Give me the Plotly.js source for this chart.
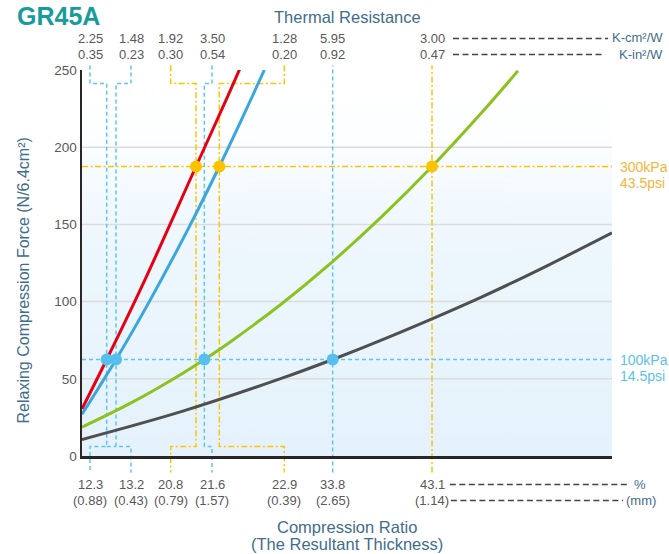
<!DOCTYPE html>
<html><head><meta charset="utf-8">
<script src="https://cdn.plot.ly/plotly-3.0.1.min.js"></script>
<style>html,body{margin:0;padding:0;background:#fff;}#chart{width:669px;height:554px;}</style>
</head><body><div id="chart"></div>
<script>
// Curves: position along the compression axis (chart units 0-100) vs force (N/6.4cm²)
const redX = [0, 4.66, 11.32, 21.51, 27.3, 29.81];
const redY = [30.5, 62.5, 110, 187.5, 231.5, 251];
const blueX = [0, 6.42, 12.83, 20.38, 25.91, 30.19, 34.4];
const blueY = [27, 62.5, 100.8, 149.4, 187.5, 218.5, 250];
const greenX = [0, 9.43, 18.87, 23.08, 28.3, 37.74, 47.17, 56.6, 66.04, 75.47, 82.26];
const greenY = [18.7, 34.7, 53.3, 62.5, 74.7, 98.8, 125.6, 155.2, 187.5, 222.6, 249.5];
const grayX = [0, 18.87, 37.74, 47.3, 56.6, 75.47, 87.74, 100];
const grayY = [10.7, 28.9, 50.4, 62.5, 75.2, 103.1, 123.2, 144.5];

// Pressure levels (100kPa, 300kPa)
const pressureLevels = [62.5, 187.5];
const pressureKPa = ['100kPa', '300kPa'];
const pressurePsi = ['14.5psi', '43.5psi'];

// Measured points and their labels
const pointX = [4.66, 6.42, 21.51, 23.08, 25.91, 47.3, 66.04];
const pointLevel = [0, 0, 1, 0, 1, 0, 1];
const labelX = [1.51, 9.25, 16.74, 24.53, 38.17, 47.3, 66.04];
const resCm = ['2.25', '1.48', '1.92', '3.50', '1.28', '5.95', '3.00'];
const resIn = ['0.35', '0.23', '0.30', '0.54', '0.20', '0.92', '0.47'];
const ratioPct = ['12.3', '13.2', '20.8', '21.6', '22.9', '33.8', '43.1'];
const thickMm = ['(0.88)', '(0.43)', '(0.79)', '(1.57)', '(0.39)', '(2.65)', '(1.14)'];

const yTicks = [0, 50, 100, 150, 200, 250];
const gridVals = [50, 100, 150, 200];

// styles
const FONT = 'Liberation Sans, Arial, sans-serif';
const levelColor = ['#5cc6f0', '#fcc600'];
const dotColor = ['#55bfee', '#fdc300'];
const levelDash = ['4px,3px', '6px,2.5px,2px,2.5px'];
const labelColor = ['#5bc2ec', '#f5b53a'];
const numColor = '#5a5858';
const titleColor = '#3f6d8c';

// paper-y levels for brackets
const yTop = 1.0117, yBrT = 0.965, yBrB = 0.0246, yBot = -0.0427;

const shapes = [];
gridVals.forEach(v => shapes.push({type: 'line', xref: 'paper', x0: 0, x1: 1, yref: 'y', y0: v, y1: v,
  line: {color: '#dcdcdc', width: 1.5}, layer: 'below'}));
pressureLevels.forEach((v, k) => shapes.push({type: 'line', xref: 'paper', x0: 0, x1: 1, yref: 'y', y0: v, y1: v,
  line: {color: levelColor[k], width: 1.5, dash: levelDash[k]}, layer: 'below'}));
pointX.forEach((px, i) => {
  const k = pointLevel[i], lx = labelX[i];
  const line = {color: levelColor[k], width: 1.5, dash: levelDash[k]};
  if (Math.abs(lx - px) < 1e-6) {
    shapes.push({type: 'line', xref: 'x', yref: 'paper', x0: px, x1: px, y0: yBot, y1: yTop, line, layer: 'below'});
  } else {
    const p = `M ${lx},${yTop} L ${lx},${yBrT} L ${px},${yBrT} L ${px},${yBrB} L ${lx},${yBrB} L ${lx},${yBot}`;
    shapes.push({type: 'path', xref: 'x', yref: 'paper', path: p, line, layer: 'below'});
  }
});
// bottom link between first two brackets
shapes.push({type: 'line', xref: 'x', yref: 'paper', x0: pointX[0], x1: pointX[1], y0: yBrB, y1: yBrB,
  line: {color: levelColor[0], width: 1.5, dash: levelDash[0]}, layer: 'below'});
// unit connector dashes
const conn = [[0.70, 0.9925, 1.0816], [0.70, 0.987, 1.0402], [0.694, 1.030, -0.0738], [0.696, 1.021, -0.1153]];
conn.forEach(c => shapes.push({type: 'line', xref: 'paper', yref: 'paper', x0: c[0], x1: c[1], y0: c[2], y1: c[2],
  line: {color: '#444', width: 1.3, dash: '6px,3.5px'}}));

const ann = [];
const A = (o) => ann.push(Object.assign({showarrow: false, xanchor: 'center', yanchor: 'middle'}, o));
labelX.forEach((lx, i) => {
  A({xref: 'x', yref: 'paper', x: lx, y: 1.0816, text: resCm[i], font: {family: FONT, size: 13, color: numColor}});
  A({xref: 'x', yref: 'paper', x: lx, y: 1.0402, text: resIn[i], font: {family: FONT, size: 13, color: numColor}});
  A({xref: 'x', yref: 'paper', x: lx, y: -0.0738, text: ratioPct[i], font: {family: FONT, size: 13, color: numColor}});
  A({xref: 'x', yref: 'paper', x: lx, y: -0.1153, text: thickMm[i], font: {family: FONT, size: 13, color: numColor}});
});
A({xref: 'paper', yref: 'paper', x: 1.1, xanchor: 'right', y: 1.0842, text: 'K-cm²/W', font: {family: FONT, size: 13, color: titleColor}});
A({xref: 'paper', yref: 'paper', x: 1.1, xanchor: 'right', y: 1.0402, text: 'K-in²/W', font: {family: FONT, size: 13, color: titleColor}});
A({xref: 'paper', yref: 'paper', x: 1.053, y: -0.0738, text: '%', font: {family: FONT, size: 13, color: titleColor}});
A({xref: 'paper', yref: 'paper', x: 1.055, y: -0.1153, text: '(mm)', font: {family: FONT, size: 13, color: titleColor}});
pressureLevels.forEach((v, k) => {
  A({xref: 'paper', yref: 'y', x: 1.0113, xanchor: 'left', y: v, yshift: 0, text: pressureKPa[k], font: {family: FONT, size: 14, color: labelColor[k]}});
  A({xref: 'paper', yref: 'y', x: 1.0113, xanchor: 'left', y: v, yshift: -16, text: pressurePsi[k], font: {family: FONT, size: 14, color: labelColor[k]}});
});
A({xref: 'paper', yref: 'paper', x: 0.5, y: 1.1386, text: 'Thermal Resistance', font: {family: FONT, size: 16.5, color: titleColor}});
A({xref: 'paper', yref: 'paper', x: 0.5, y: -0.1852, text: 'Compression Ratio', font: {family: FONT, size: 16.5, color: titleColor}});
A({xref: 'paper', yref: 'paper', x: 0.5, y: -0.2267, text: '(The Resultant Thickness)', font: {family: FONT, size: 16.5, color: titleColor}});
A({xref: 'paper', yref: 'paper', x: -0.1113, y: 0.4547, textangle: -90, text: 'Relaxing Compression Force (N/6.4cm²)', font: {family: FONT, size: 16, color: titleColor}});

const svg = "<svg xmlns='http://www.w3.org/2000/svg' width='10' height='100' preserveAspectRatio='none'><defs><linearGradient id='g' x1='0' y1='0' x2='0' y2='1'><stop offset='0' stop-color='#ffffff'/><stop offset='0.17' stop-color='#fdfeff'/><stop offset='0.3' stop-color='#f4fafe'/><stop offset='0.5' stop-color='#ecf6fd'/><stop offset='1' stop-color='#e5f2fb'/></linearGradient></defs><rect width='10' height='100' fill='url(#g)'/></svg>";

const curve = (x, y, c) => ({type: 'scatter', mode: 'lines', x, y, line: {color: c, width: 3, shape: 'spline', smoothing: 1}, hoverinfo: 'skip'});
const dotsFor = (k) => {
  const xs = [], ys = [];
  pointX.forEach((px, i) => { if (pointLevel[i] === k) { xs.push(px); ys.push(pressureLevels[k]); } });
  return {type: 'scatter', mode: 'markers', x: xs, y: ys, marker: {size: 12, color: dotColor[k]}, hoverinfo: 'skip'};
};

const data = [
  curve(grayX, grayY, '#4f4f4f'),
  curve(greenX, greenY, '#8cc220'),
  curve(blueX, blueY, '#3aa6dd'),
  curve(redX, redY, '#e60012'),
  dotsFor(0), dotsFor(1)
];

const layout = {
  width: 669, height: 554,
  margin: {l: 82, r: 57, t: 70, b: 98, pad: 0},
  paper_bgcolor: '#ffffff', plot_bgcolor: 'rgba(0,0,0,0)',
  showlegend: false,
  title: {text: '<b>GR45A</b>', x: 17 / 669, xanchor: 'left', xref: 'container', y: 1 - 16 / 554, yanchor: 'middle', yref: 'container',
    font: {family: FONT, size: 25, color: '#179b9b'}},
  xaxis: {range: [0, 100], showticklabels: false, showgrid: false, zeroline: false, ticks: '',
    showline: true, linecolor: '#2a2526', linewidth: 2.5, fixedrange: true},
  yaxis: {range: [0, 250], tickvals: yTicks, showgrid: false, zeroline: false, ticks: '',
    showline: true, linecolor: '#2a2526', linewidth: 2.5, fixedrange: true,
    tickfont: {family: FONT, size: 13.5, color: numColor}},
  shapes, annotations: ann,
  images: [{source: 'data:image/svg+xml;charset=utf-8,' + encodeURIComponent(svg), xref: 'paper', yref: 'paper',
    x: 0, y: 1, sizex: 1, sizey: 1, xanchor: 'left', yanchor: 'top', sizing: 'stretch', layer: 'below'}]
};

Plotly.newPlot('chart', data, layout, {displayModeBar: false, staticPlot: true});
</script></body></html>
